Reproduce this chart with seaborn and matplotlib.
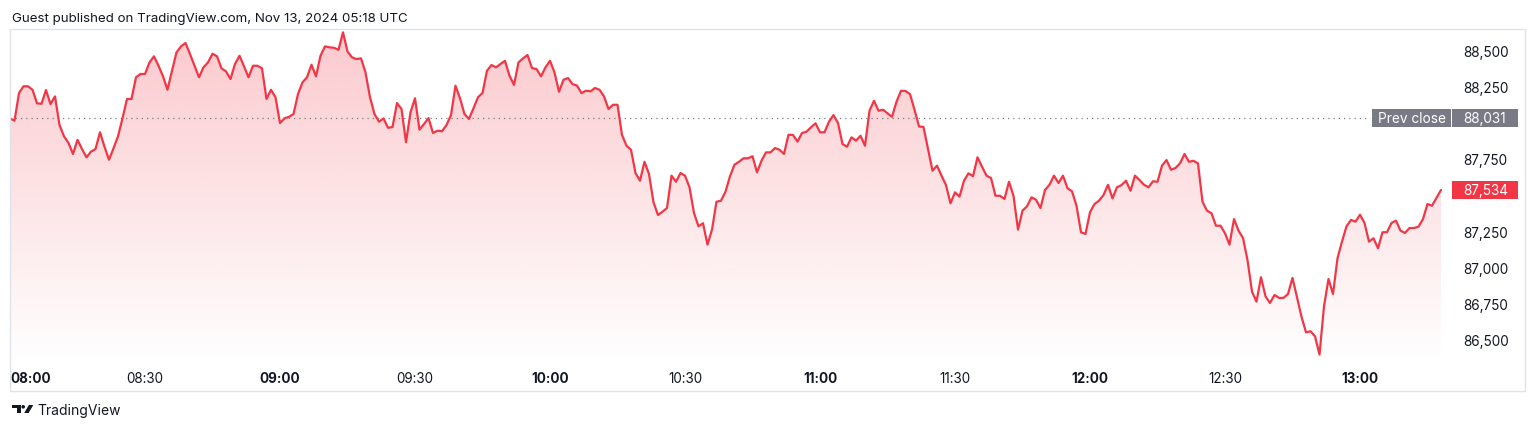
import numpy as np
import pandas as pd
import seaborn as sns
import matplotlib.pyplot as plt
from matplotlib.colors import to_rgb
from matplotlib.patches import Rectangle, Polygon, Ellipse
from matplotlib.transforms import blended_transform_factory

sns.set_style("white")
plt.rcParams['font.family'] = ['Inter', 'DejaVu Sans']

# ==========================================
# data: 1-minute closes from 08:00 to 13:18
# ==========================================
prices = [
    88029, 88013, 88204, 88251, 88251, 88227, 88133, 88130, 88225, 88128,
    88181, 87983, 87905, 87859, 87783, 87881, 87817, 87760, 87799, 87817,
    87933, 87833, 87743, 87822, 87905, 88029, 88163, 88163, 88313, 88336,
    88336, 88416, 88458, 88393, 88320, 88227, 88358, 88485, 88527, 88550,
    88474, 88393, 88313, 88382, 88416, 88476, 88458, 88375, 88354, 88301,
    88405, 88462, 88389, 88313, 88393, 88393, 88375, 88163, 88227, 88175,
    87997, 88029, 88040, 88059, 88197, 88278, 88313, 88400, 88320, 88462,
    88527, 88520, 88517, 88503, 88624, 88492, 88451, 88439, 88444, 88347,
    88175, 88059, 88006, 88029, 87964, 87969, 88135, 88094, 87864, 88071,
    88168, 87951, 87990, 88031, 87928, 87944, 87940, 87983, 88052, 88255,
    88168, 88059, 88025, 88099, 88175, 88204, 88358, 88398, 88382, 88405,
    88427, 88324, 88260, 88416, 88444, 88467, 88377, 88370, 88320, 88382,
    88427, 88347, 88213, 88296, 88308, 88266, 88256, 88204, 88220, 88216,
    88239, 88227, 88181, 88094, 88123, 88123, 87914, 87840, 87812, 87651,
    87598, 87729, 87644, 87449, 87361, 87384, 87409, 87633, 87591, 87651,
    87633, 87553, 87375, 87283, 87304, 87156, 87260, 87453, 87460, 87522,
    87629, 87709, 87729, 87753, 87753, 87767, 87656, 87736, 87794, 87794,
    87824, 87812, 87783, 87916, 87914, 87868, 87928, 87937, 87967, 87995,
    87933, 87933, 88006, 88052, 87997, 87852, 87833, 87898, 87875, 87909,
    87840, 88082, 88151, 88082, 88089, 88064, 88040, 88144, 88220, 88218,
    88197, 88089, 87974, 87969, 87817, 87667, 87702, 87633, 87568, 87442,
    87518, 87488, 87598, 87649, 87629, 87760, 87695, 87633, 87617, 87494,
    87494, 87472, 87591, 87494, 87260, 87391, 87421, 87483, 87467, 87409,
    87534, 87570, 87633, 87582, 87633, 87546, 87525, 87425, 87242, 87230,
    87380, 87437, 87460, 87499, 87570, 87476, 87553, 87568, 87598, 87529,
    87633, 87603, 87570, 87553, 87594, 87591, 87702, 87741, 87674, 87686,
    87718, 87783, 87729, 87736, 87718, 87453, 87391, 87373, 87287, 87287,
    87235, 87156, 87333, 87253, 87202, 87050, 86831, 86762, 86931, 86799,
    86753, 86808, 86788, 86788, 86815, 86926, 86792, 86658, 86550, 86557,
    86523, 86396, 86730, 86919, 86815, 87062, 87177, 87283, 87327, 87315,
    87363, 87306, 87177, 87200, 87131, 87242, 87242, 87306, 87322, 87253,
    87237, 87271, 87271, 87280, 87333, 87437, 87425, 87479, 87534,
]
minutes = list(range(len(prices)))

tick_minutes = [0, 30, 60, 90, 120, 150, 180, 210, 240, 270, 300]
tick_labels = ["08:00", "08:30", "09:00", "09:30", "10:00", "10:30",
               "11:00", "11:30", "12:00", "12:30", "13:00"]
# 87,500 and 88,000 sit under the price boxes, so they are not shown
price_ticks = [86500, 86750, 87000, 87250, 87750, 88250, 88500]
prev_close = 88031
last_price = 87534
header = "Guest published on TradingView.com, Nov 13, 2024 05:18 UTC"

RED = "#F23645"
GREY = "#787B86"
INK = "#131722"

W, H = 1536, 431


def fx(px):
    return px / W


def fy(py):
    return 1 - py / H


fig = plt.figure(figsize=(W / 100, H / 100), dpi=100)
fig.patch.set_facecolor("white")

# plot area in pixels: x 10..1455, y 30..365 (4.5 px per minute)
ax = fig.add_axes([fx(10), fy(365), fx(1455) - fx(10), fy(30) - fy(365)])
ax.set_facecolor("none")
x_max = (1455 - 10) / 4.5
y_lo, y_hi = 86331, 88647
ax.set_xlim(0, x_max)
ax.set_ylim(y_lo, y_hi)
per_px = (y_hi - y_lo) / 335

df = pd.DataFrame({"minute": minutes, "price": prices})

# gradient area under the line
grad = np.zeros((256, 1, 4))
grad[..., :3] = to_rgb(RED)
grad[:, 0, 3] = np.linspace(0.27, 0.0, 256)
im = ax.imshow(grad, extent=[0, x_max, y_lo, y_hi], aspect="auto",
               origin="upper", zorder=1, interpolation="bilinear")
area = ax.fill_between(df["minute"], df["price"], y_lo, color="none", lw=0)
im.set_clip_path(area.get_paths()[0], ax.transData)

sns.lineplot(data=df, x="minute", y="price", color=RED, linewidth=1.6,
             ax=ax, zorder=3)

# previous close dotted line
ax.axhline(prev_close, xmin=0, xmax=(1370 - 10) / 1445, color=GREY,
           lw=0.9, linestyle=(0, (1, 3.2)), zorder=2)

ax.set_xlabel("")
ax.set_ylabel("")
sns.despine(ax=ax, left=True, bottom=True, right=True, top=True)

ax.set_xticks(tick_minutes)
ax.set_xticklabels(tick_labels)
ax.tick_params(axis="x", length=0, pad=5, labelsize=9.7, labelcolor=INK)
for lab in ax.get_xticklabels():
    if lab.get_text().endswith(":00"):
        lab.set_fontweight("bold")
ax.get_xticklabels()[0].set_ha("left")

ax.yaxis.tick_right()
ax.set_yticks(price_ticks)
ax.set_yticklabels([f"{v:,}" for v in price_ticks])
ax.tick_params(axis="y", length=0, pad=6, labelsize=9.8, labelcolor=INK)

# price scale labels
tr = blended_transform_factory(fig.transFigure, ax.transData)
box_h = 18 * per_px
ax.add_patch(Rectangle((fx(1372), prev_close - box_h / 2), fx(1451) - fx(1372), box_h,
                       transform=tr, fc=GREY, ec="none", clip_on=False, zorder=4))
ax.add_patch(Rectangle((fx(1452), prev_close - box_h / 2), fx(1518) - fx(1452), box_h,
                       transform=tr, fc=GREY, ec="none", clip_on=False, zorder=4))
ax.add_patch(Rectangle((fx(1452), last_price - box_h / 2), fx(1518) - fx(1452), box_h,
                       transform=tr, fc=RED, ec="none", clip_on=False, zorder=4))
ax.text(fx(1411.5), prev_close, "Prev close", transform=tr, ha="center", va="center",
        color="white", fontsize=9.8, zorder=5, clip_on=False)
ax.text(fx(1463), prev_close, f"{prev_close:,}", transform=tr, ha="left", va="center",
        color="white", fontsize=9.8, zorder=5, clip_on=False)
ax.text(fx(1463), last_price, f"{last_price:,}", transform=tr, ha="left", va="center",
        color="white", fontsize=9.8, zorder=5, clip_on=False)

# frame, header and logo
fig.add_artist(Rectangle((fx(10), fy(392)), fx(1525) - fx(10), fy(30) - fy(392),
                         transform=fig.transFigure, fill=False, ec="#E0E3EB", lw=1))
fig.text(fx(12), fy(19), header, fontsize=9.6, color=INK, va="center", ha="left")

fig.add_artist(Rectangle((fx(11.7), fy(409)), fx(20.5) - fx(11.7), 3 / H,
                         transform=fig.transFigure, fc=INK, ec="none"))
fig.add_artist(Rectangle((fx(16.8), fy(414)), fx(20.5) - fx(16.8), 8 / H,
                         transform=fig.transFigure, fc=INK, ec="none"))
fig.add_artist(Ellipse((fx(23.2), fy(407.8)), 3.6 / W, 3.6 / H,
                       transform=fig.transFigure, fc=INK, ec="none"))
fig.add_artist(Polygon([(fx(24.2), fy(414)), (fx(28.6), fy(414)),
                        (fx(33.3), fy(406)), (fx(28.9), fy(406))],
                       closed=True, transform=fig.transFigure, fc=INK, ec="none"))
fig.text(fx(37), fy(411), "TradingView", fontsize=10, color=INK, va="center", ha="left")

fig.savefig("out.png", dpi=100)
